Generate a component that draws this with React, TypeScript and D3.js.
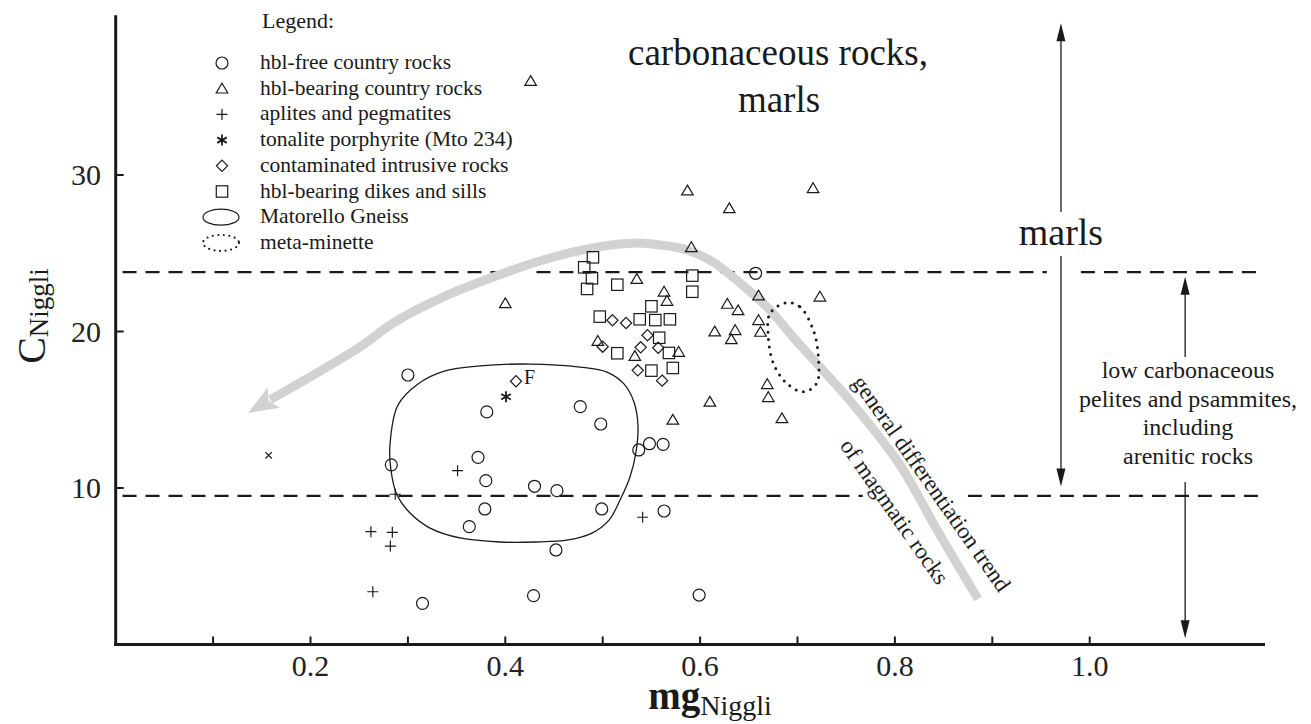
import * as d3 from "d3";

// data: [mgNiggli, cNiggli]
const hblFreeCountry: [number, number][] = [
  [0.657, 23.72], [0.300, 17.22], [0.381, 14.86], [0.477, 15.2], [0.498, 14.09],
  [0.537, 12.43], [0.548, 12.83], [0.562, 12.79], [0.372, 11.96], [0.283, 11.48],
  [0.380, 10.47], [0.430, 10.11], [0.453, 9.83], [0.379, 8.66], [0.499, 8.66],
  [0.563, 8.53], [0.363, 7.53], [0.452, 6.04], [0.429, 3.12], [0.599, 3.16],
  [0.315, 2.63],
];

const hblBearingCountry: [number, number][] = [
  [0.426, 36.0], [0.587, 29.0], [0.716, 29.15], [0.630, 27.87], [0.591, 25.38],
  [0.400, 21.8], [0.535, 23.35], [0.563, 22.54], [0.566, 21.95], [0.628, 21.76],
  [0.639, 21.35], [0.660, 22.29], [0.723, 22.22], [0.660, 20.72], [0.615, 19.99],
  [0.636, 20.08], [0.632, 19.5], [0.662, 19.97], [0.533, 18.43], [0.578, 18.69],
  [0.669, 16.63], [0.670, 15.8], [0.610, 15.5], [0.495, 19.39], [0.684, 14.45],
  [0.572, 14.35],
];

const aplites: [number, number][] = [
  [0.351, 11.11], [0.287, 9.6], [0.262, 7.21], [0.284, 7.17], [0.282, 6.29],
  [0.264, 3.37], [0.541, 8.13],
];

const tonalitePorphyrite: [number, number][] = [[0.4007, 15.83]];

const contaminated: [number, number][] = [
  [0.510, 20.72], [0.524, 20.54], [0.546, 19.76], [0.500, 19.03], [0.539, 18.99],
  [0.557, 18.96], [0.536, 17.52], [0.561, 16.86], [0.411, 16.82],
];

const dikesSills: [number, number][] = [
  [0.490, 24.74], [0.481, 24.1], [0.489, 23.4], [0.484, 22.72], [0.515, 22.99],
  [0.592, 23.57], [0.592, 22.54], [0.550, 21.61], [0.497, 20.95], [0.538, 20.78],
  [0.554, 20.73], [0.569, 20.78], [0.558, 19.6], [0.515, 18.61], [0.568, 18.63],
  [0.572, 17.67], [0.550, 17.5],
];

const otherSample: [number, number][] = [[0.157, 12.09]];

const matorelloGneiss: [number, number][] = [
  [0.2816, 12.75], [0.2898, 15.3], [0.3104, 16.65], [0.3381, 17.48], [0.374, 17.8],
  [0.4253, 17.92], [0.4767, 17.73], [0.5044, 17.41], [0.5218, 16.65], [0.5321, 15.5],
  [0.5362, 14.03], [0.5342, 12.3], [0.528, 10.7], [0.5188, 9.36], [0.5065, 7.95],
  [0.489, 7.12], [0.4644, 6.68], [0.4305, 6.55], [0.3946, 6.55], [0.3535, 6.81],
  [0.3227, 7.44], [0.3022, 8.4], [0.2888, 9.55], [0.2826, 11.15],
];

const metaMinette: [number, number][] = [
  [0.6889, 21.84], [0.7025, 21.58], [0.7162, 20.1], [0.7214, 18.39], [0.7197, 16.69],
  [0.706, 16.15], [0.6889, 16.69], [0.6752, 17.97], [0.67, 19.67], [0.6718, 21.16],
];

const trendPath: [number, number][] = [
  [0.8853, 2.91], [0.8463, 7.0], [0.8052, 11.47], [0.7744, 14.03], [0.7508, 15.81],
  [0.7231, 17.73], [0.6954, 19.65], [0.6687, 21.57], [0.641, 23.1], [0.6132, 24.44],
  [0.5866, 25.21], [0.5589, 25.53], [0.5352, 25.65], [0.4901, 25.34], [0.4388, 24.57],
  [0.3875, 23.48], [0.3361, 22.2], [0.2847, 20.54], [0.2508, 19.01], [0.2097, 17.55],
];
const trendTip: [number, number] = [0.1359, 14.79];

const xTicks = [0.1, 0.2, 0.3, 0.4, 0.5, 0.6, 0.7, 0.8, 0.9, 1.0];
const xTickLabels = ["0.2", "0.4", "0.6", "0.8", "1.0"];
const yTicks = [10, 20, 30];

const upperLimit = 23.8;
const lowerLimit = 9.5;
const upperSegments: [number, number][] = [[0.007, 0.398], [0.432, 0.956], [0.991, 1.178]];
const lowerSegments: [number, number][] = [[0.007, 0.767], [0.875, 1.178]];

const legendItems = [
  "hbl-free country rocks",
  "hbl-bearing country rocks",
  "aplites and pegmatites",
  "tonalite porphyrite (Mto 234)",
  "contaminated intrusive rocks",
  "hbl-bearing dikes and sills",
  "Matorello Gneiss",
  "meta-minette",
];

const rightNote = ["low carbonaceous", "pelites and psammites,", "including", "arenitic rocks"];

const W = 1311;
const H = 724;
const FONT = "'Liberation Serif', 'Times New Roman', serif";
const INK = "#1a1a1a";

const x = d3.scaleLinear().domain([0, 1.18]).range([115.7, 115.7 + 1.18 * 974]);
const y = d3.scaleLinear().domain([0, 40]).range([644.5, 644.5 - 40 * 15.65]);

type Kind = "circle" | "triangle" | "plus" | "star" | "diamond" | "square" | "cross";

function Marker({ kind, cx, cy }: { kind: Kind; cx: number; cy: number }) {
  const common = { fill: "none", stroke: INK, strokeWidth: 1.2 };
  const t = `translate(${cx},${cy})`;
  switch (kind) {
    case "circle":
      return <circle cx={cx} cy={cy} r={6} {...common} />;
    case "triangle":
      return <path transform={t} d="M0,-5.5L5.8,4.3L-5.8,4.3Z" {...common} />;
    case "square":
      return <rect x={cx - 5.7} y={cy - 5.7} width={11.4} height={11.4} {...common} />;
    case "diamond":
      return <path transform={t} d="M0,-5.6L5.6,0L0,5.6L-5.6,0Z" {...common} />;
    case "plus":
      return <path transform={t} d="M-5.5,0H5.5M0,-5.5V5.5" {...common} />;
    case "cross":
      return <path transform={t} d="M-3.2,-3.2L3.2,3.2M-3.2,3.2L3.2,-3.2" {...common} />;
    case "star":
      return (
        <path
          transform={t}
          d="M0,-5.5V5.5M-4.8,-2.75L4.8,2.75M-4.8,2.75L4.8,-2.75"
          {...common}
          strokeWidth={1.8}
        />
      );
  }
}

function ArrowHead({ px, py, dir }: { px: number; py: number; dir: 1 | -1 }) {
  // dir -1 points up, 1 points down
  const L = 18;
  const hw = 4.5;
  return (
    <path
      d={`M${px},${py}L${px - hw},${py - dir * L}L${px + hw},${py - dir * L}Z`}
      fill={INK}
    />
  );
}

export default function App() {
  const closed = d3
    .line<[number, number]>()
    .x((d) => x(d[0]))
    .y((d) => y(d[1]))
    .curve(d3.curveCatmullRomClosed);

  // gray differentiation trend with its arrow head
  const tipPx: [number, number] = [x(trendTip[0]), y(trendTip[1])];
  const last = trendPath[trendPath.length - 1];
  const lastPx: [number, number] = [x(last[0]), y(last[1])];
  const dx = tipPx[0] - lastPx[0];
  const dy = tipPx[1] - lastPx[1];
  const len = Math.hypot(dx, dy);
  const ux = dx / len;
  const uy = dy / len;
  const headL = 30;
  const headW = 12;
  const bx = tipPx[0] - ux * headL;
  const by = tipPx[1] - uy * headL;
  const trendPx: [number, number][] = trendPath.map((d) => [x(d[0]), y(d[1])]);
  trendPx[trendPx.length - 1] = [bx + ux * 4, by + uy * 4];
  const trendLine = d3.line().curve(d3.curveCatmullRom)(trendPx) ?? "";
  const head = `M${tipPx[0]},${tipPx[1]}L${bx - uy * headW},${by + ux * headW}L${bx + ux * 6},${by + uy * 6}L${bx + uy * headW},${by - ux * headW}Z`;

  const series: { kind: Kind; data: [number, number][] }[] = [
    { kind: "circle", data: hblFreeCountry },
    { kind: "triangle", data: hblBearingCountry },
    { kind: "plus", data: aplites },
    { kind: "star", data: tonalitePorphyrite },
    { kind: "diamond", data: contaminated },
    { kind: "square", data: dikesSills },
    { kind: "cross", data: otherSample },
  ];
  const legendKinds: Kind[] = ["circle", "triangle", "plus", "star", "diamond", "square"];

  const marlsX = x(0.9705);
  const noteX = x(1.098);
  const noteCx = 1188;

  return (
    <svg
      width={W}
      height={H}
      style={{ position: "absolute", left: 0, top: 0, background: "#fff" }}
      fontFamily={FONT}
    >
      {/* limits */}
      {upperSegments.map((s, i) => (
        <line key={"u" + i} x1={x(s[0])} x2={x(s[1])} y1={y(upperLimit)} y2={y(upperLimit)}
          stroke={INK} strokeWidth={2.2} strokeDasharray="14 9" />
      ))}
      {lowerSegments.map((s, i) => (
        <line key={"l" + i} x1={x(s[0])} x2={x(s[1])} y1={y(lowerLimit)} y2={y(lowerLimit)}
          stroke={INK} strokeWidth={2.2} strokeDasharray="14 9" />
      ))}

      {/* trend */}
      <path d={trendLine} fill="none" stroke="#d2d2d2" strokeWidth={9} />
      <path d={head} fill="#d2d2d2" />
      <text transform="translate(931,484) rotate(55)" textAnchor="middle" dy="0.3em"
        fontSize={23} fill={INK}>general differentiation trend</text>
      <text transform="translate(894,512) rotate(55)" textAnchor="middle" dy="0.3em"
        fontSize={23} fill={INK}>of magmatic rocks</text>

      {/* fields */}
      <path d={closed(matorelloGneiss) ?? ""} fill="none" stroke={INK} strokeWidth={1.3} />
      <path d={closed(metaMinette) ?? ""} fill="none" stroke={INK} strokeWidth={3}
        strokeDasharray="0 7.5" strokeLinecap="round" />

      {/* samples */}
      {series.map((s) =>
        s.data.map((d, i) => <Marker key={s.kind + i} kind={s.kind} cx={x(d[0])} cy={y(d[1])} />)
      )}
      <text x={x(0.411) + 8} y={y(16.82) + 3} fontSize={20} fill={INK}>F</text>

      {/* axes */}
      <line x1={x(0)} x2={x(0)} y1={y(0) + 1.5} y2={y(40.2)} stroke={INK} strokeWidth={3} />
      <line x1={x(0) - 1.5} x2={x(1.18)} y1={y(0)} y2={y(0)} stroke={INK} strokeWidth={3} />
      {xTicks.map((t) => (
        <line key={t} x1={x(t)} x2={x(t)} y1={y(0)} y2={y(0) - 8} stroke={INK} strokeWidth={2} />
      ))}
      {xTickLabels.map((t) => (
        <text key={t} x={x(+t)} y={676} textAnchor="middle" fontSize={30} fill="#222">{t}</text>
      ))}
      {yTicks.map((t) => (
        <g key={t}>
          <line x1={x(0)} x2={x(0) + 8} y1={y(t)} y2={y(t)} stroke={INK} strokeWidth={2} />
          <text x={101} y={y(t) + 10} textAnchor="end" fontSize={30} fill="#222">{t}</text>
        </g>
      ))}
      <text x={710} y={709} textAnchor="middle" fill={INK}>
        <tspan fontSize={39} fontWeight="bold">mg</tspan>
        <tspan fontSize={28} dy={6}>Niggli</tspan>
      </text>
      <text transform="translate(45,316) rotate(-90)" textAnchor="middle" fill={INK}>
        <tspan fontSize={40}>C</tspan>
        <tspan fontSize={27} dy={3}>Niggli</tspan>
      </text>

      {/* title */}
      <text x={778} y={65} textAnchor="middle" fontSize={37} fill={INK}>carbonaceous rocks,</text>
      <text x={779} y={112} textAnchor="middle" fontSize={37} fill={INK}>marls</text>

      {/* marls range */}
      <line x1={marlsX} x2={marlsX} y1={y(39.7) + 10} y2={212} stroke={INK} strokeWidth={1.3} />
      <line x1={marlsX} x2={marlsX} y1={256} y2={y(10.1) - 10} stroke={INK} strokeWidth={1.3} />
      <ArrowHead px={marlsX} py={y(39.7)} dir={-1} />
      <ArrowHead px={marlsX} py={y(10.1)} dir={1} />
      <text x={marlsX} y={245} textAnchor="middle" fontSize={38} fill={INK}>marls</text>

      {/* low carbonaceous range */}
      <line x1={noteX} x2={noteX} y1={y(23.5) + 10} y2={357} stroke={INK} strokeWidth={1.3} />
      <line x1={noteX} x2={noteX} y1={482} y2={y(0.4) - 10} stroke={INK} strokeWidth={1.3} />
      <ArrowHead px={noteX} py={y(23.5)} dir={-1} />
      <ArrowHead px={noteX} py={y(0.4)} dir={1} />
      {rightNote.map((s, i) => (
        <text key={s} x={noteCx} y={378 + i * 28.5} textAnchor="middle" fontSize={24} fill={INK}>{s}</text>
      ))}

      {/* legend */}
      <text x={262} y={28} fontSize={22} fill={INK}>Legend:</text>
      {legendItems.map((s, i) => {
        const cy = 63 + i * 25.7;
        return (
          <g key={s}>
            {i < legendKinds.length && <Marker kind={legendKinds[i]} cx={222} cy={cy} />}
            {i === 6 && <ellipse cx={221} cy={cy} rx={18} ry={8} fill="none" stroke={INK} strokeWidth={1.2} />}
            {i === 7 && (
              <ellipse cx={221} cy={cy} rx={18} ry={8} fill="none" stroke={INK} strokeWidth={2.2}
                strokeDasharray="0 5.5" strokeLinecap="round" />
            )}
            <text x={260} y={cy + 6} fontSize={21.5} fill={INK}>{s}</text>
          </g>
        );
      })}
    </svg>
  );
}
